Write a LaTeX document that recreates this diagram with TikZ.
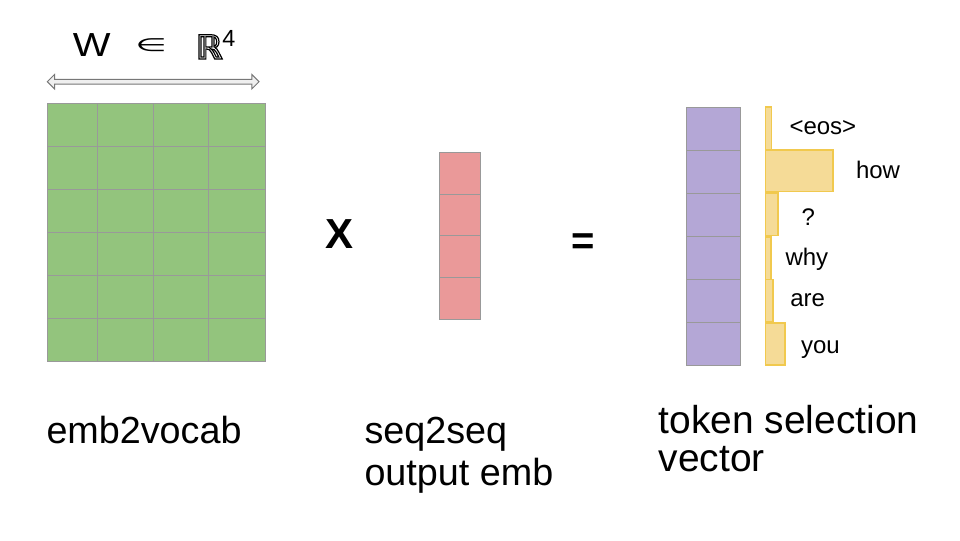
\documentclass[tikz,border=0pt]{standalone}
\usepackage{fontspec}
\setmainfont{Liberation Sans}
\newfontfamily\djv{DejaVu Sans}
\newfontfamily\djvb{DejaVu Sans Bold}
\newcommand\outlinetext[1]{\special{pdf:literal direct 1 Tr 0.9 w}#1\special{pdf:literal direct 0 Tr 0 w}}
\begin{document}
\begin{tikzpicture}[x=0.75pt,y=-0.75pt,
  cellline/.style={draw=black!40,line width=0.75pt},
  greencell/.style={cellline,fill=greenc},
  redcell/.style={cellline,fill=redc},
  purplecell/.style={cellline,fill=purplec},
  barstyle/.style={draw=barline,fill=barfill,line width=1.3pt},
  lbl/.style={inner sep=0pt,outer sep=0pt,anchor=base west,font=\fontsize{18}{20}\selectfont},
  big/.style={inner sep=0pt,outer sep=0pt,anchor=base west,font=\fontsize{28.3}{32}\selectfont},
]
\definecolor{greenc}{HTML}{93C47D}
\definecolor{redc}{HTML}{EA9999}
\definecolor{purplec}{HTML}{B4A7D6}
\definecolor{barfill}{HTML}{F5DB97}
\definecolor{barline}{HTML}{F1C94E}
\definecolor{arrowfill}{HTML}{EFEFEF}
\definecolor{arrowline}{HTML}{777777}
\useasboundingbox (0,0) rectangle (960,540);

% ---- title W in R^4
\node[inner sep=0pt,anchor=base west] (Wl) at (72.5,56.5) {\fontsize{25}{27}\selectfont\scalebox{1.2}[1]{W}};
\node[inner sep=0pt,anchor=base west] (inl) at (135,51.5) {\djv\fontsize{17}{20}\selectfont\scalebox{1.6}[0.8]{∈}};
\node[inner sep=0pt,anchor=base west] (Rl) at (195.5,59) {\djvb\fontsize{25}{28}\selectfont\outlinetext{ℝ}};
\node[inner sep=0pt,anchor=base west] (fourl) at (222,46.7) {\fontsize{17.5}{20}\selectfont 4};

% ---- double arrow
\draw[arrowline,fill=arrowfill,line width=0.75pt,line join=miter]
  (47.3,81.7) -- (54.5,74.5) -- (54.5,79.4) -- (251.8,79.4) -- (251.8,74.5) -- (259,81.7)
  -- (251.8,88.9) -- (251.8,84) -- (54.5,84) -- (54.5,88.9) -- cycle;

% ---- green matrix 6x4
\def\gx{{47,97.3,153.3,208.3,265}}
\def\gy{{103.3,146,189.3,232.3,275.3,318.3,361.7}}
\foreach \r in {0,...,5}{
  \foreach \c in {0,...,3}{
    \pgfmathsetmacro\xa{\gx[\c]}
    \pgfmathsetmacro\xb{\gx[\c+1]}
    \pgfmathsetmacro\ya{\gy[\r]}
    \pgfmathsetmacro\yb{\gy[\r+1]}
    \draw[greencell] (\xa,\ya) rectangle (\xb,\yb);
  }
}

% ---- times sign
\node[inner sep=0pt,anchor=base west] (times) at (325.5,248.3) {\fontsize{31.5}{34}\selectfont\bfseries X};

% ---- red column 4x1
\def\ry{{152.3,194,235.7,277.3,319.3}}
\foreach \r in {0,...,3}{
  \pgfmathsetmacro\ya{\ry[\r]}
  \pgfmathsetmacro\yb{\ry[\r+1]}
  \draw[redcell] (439.3,\ya) rectangle (480.3,\yb);
}

% ---- equals sign
\node[inner sep=0pt,anchor=base] (eq) at (583.3,254) {\fontsize{30}{34}\selectfont\bfseries =};

% ---- purple column 6x1
\def\py{{107.3,150,193.3,236.7,279.3,322.7,365}}
\foreach \r in {0,...,5}{
  \pgfmathsetmacro\ya{\py[\r]}
  \pgfmathsetmacro\yb{\py[\r+1]}
  \draw[purplecell] (686.7,\ya) rectangle (740,\yb);
}

% ---- yellow bars
\draw[barstyle] (765.5,107.3) rectangle (771.5,150);
\draw[barstyle] (765.5,150) rectangle (833.3,191.5);
\draw[barstyle] (765.5,193) rectangle (777.7,235.5);
\draw[barstyle] (765.5,236.7) rectangle (770.7,279.5);
\draw[barstyle] (765.5,279.5) rectangle (773.3,321.5);
\draw[barstyle] (765.5,322.7) rectangle (785,365);

% ---- token labels
\node[lbl] (eos) at (789.5,134.3) {<eos>};
\node[lbl] (how) at (856,178.3) {how};
\node[lbl] (q)   at (801.5,225) {?};
\node[lbl] (why) at (785.5,265) {why};
\node[lbl] (are) at (790.3,306.7) {are};
\node[lbl] (you) at (801,353.3) {you};

% ---- captions
\node[big] (cap1) at (46.5,443) {emb2vocab};
\node[big] (cap2a) at (364.5,443) {seq2seq};
\node[big] (cap2b) at (364.5,485) {output emb};
\node[inner sep=0pt,anchor=base west,font=\fontsize{29.2}{32}\selectfont] (cap3a) at (658.5,433) {token selection};
\node[inner sep=0pt,anchor=base west,font=\fontsize{29.2}{32}\selectfont] (cap3b) at (658.5,471.7) {vector};
\end{tikzpicture}
\end{document}
